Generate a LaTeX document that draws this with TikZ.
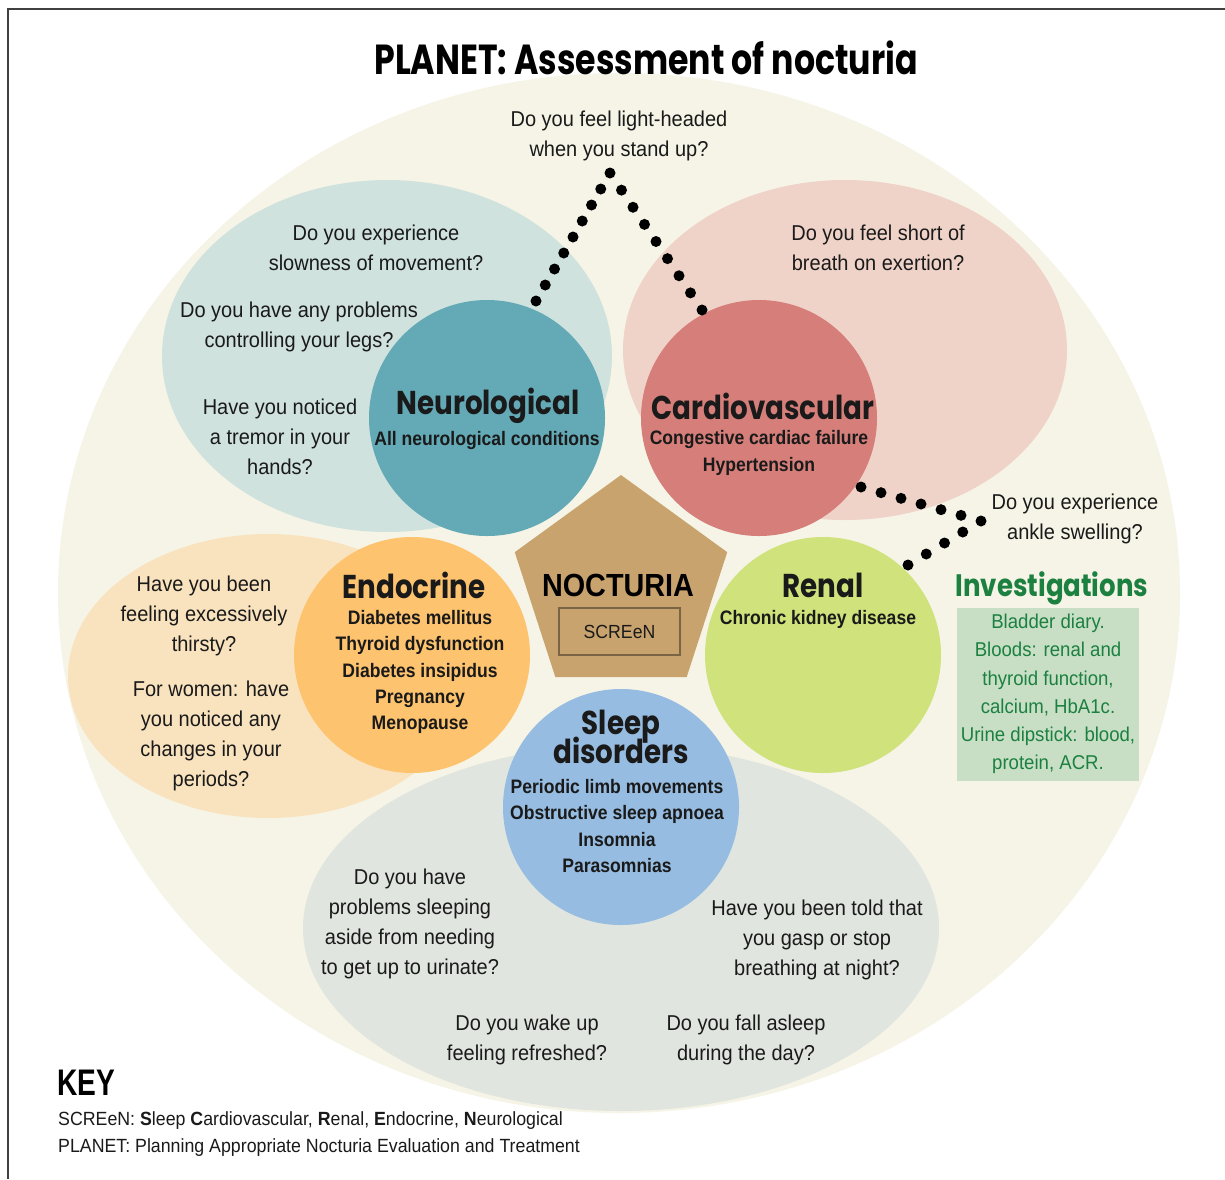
\documentclass[tikz,border=0pt]{standalone}
\usepackage{fontspec}
\setmainfont{Liberation Sans}
\newfontfamily\qf[FakeStretch=0.93]{Liberation Sans}
\newfontfamily\itf[FakeStretch=0.9]{Liberation Sans}
\newfontfamily\hdf[FakeStretch=0.84]{Poppins}
\newfontfamily\ttlf[FakeStretch=0.79]{Poppins}
\newfontfamily\keyf[FakeStretch=0.76]{Liberation Sans}
\newcommand\tightls{\setlength{\lineskiplimit}{-30pt}}
\usetikzlibrary{shapes.geometric,calc}
\definecolor{cream}{HTML}{F6F4E6}
\definecolor{neuroPale}{HTML}{CFE2DD}
\definecolor{cardioPale}{HTML}{EFD3C9}
\definecolor{endoPale}{HTML}{F9E3BF}
\definecolor{sleepPale}{HTML}{E0E5DF}
\definecolor{neuroC}{HTML}{63A9B6}
\definecolor{cardioC}{HTML}{D67E79}
\definecolor{endoC}{HTML}{FDC36E}
\definecolor{renalC}{HTML}{CFE27B}
\definecolor{sleepC}{HTML}{96BDE1}
\definecolor{pentC}{HTML}{C8A36E}
\definecolor{pentB}{HTML}{7B6445}
\definecolor{invG}{HTML}{1B8040}
\definecolor{invBox}{HTML}{C8DFC5}
\definecolor{txt}{HTML}{1A1A1A}
\begin{document}
\begin{tikzpicture}[x=1pt,y=-1pt,
  q/.style={font=\qf\fontsize{21.5}{30}\selectfont, align=center, text=txt, inner sep=0},
  itm/.style={font=\itf\bfseries\fontsize{19.5}{26.3}\selectfont, align=center, text=txt, inner sep=0},
  hd/.style={font={\hdf\bfseries\fontsize{33}{28.5}\selectfont\tightls}, align=center, text=txt, inner sep=0},
  bigc/.style={circle, minimum size=236pt, inner sep=0},
  dotlink/.style={fill=black}
]
\useasboundingbox (0,0) rectangle (1225,1179);
\fill[white] (0,0) rectangle (1225,1179);
\draw[line width=1.5pt, black!75] (8,1179) -- (8,9) -- (1225,9);

% background shapes
\fill[cream] (619,593) ellipse [x radius=561, y radius=520];
\fill[neuroPale] (387,356) ellipse [x radius=225, y radius=176];
\fill[cardioPale] (845,350) ellipse [x radius=222, y radius=170];
\fill[endoPale] (268,676) ellipse [x radius=200, y radius=142];
\fill[sleepPale] (621,928) ellipse [x radius=318, y radius=183];

% circles
\node[bigc, fill=neuroC] (neuro) at (487,418) {};
\node[bigc, fill=cardioC] (cardio) at (759,418) {};
\node[bigc, fill=endoC] (endo) at (412,655) {};
\node[bigc, fill=renalC] (renal) at (823,655) {};
\node[bigc, fill=sleepC] (sleep) at (621,807) {};
\node[regular polygon, regular polygon sides=5, minimum size=223.4pt, inner sep=0, fill=pentC] (pent) at (621,586.7) {};
\node[draw=pentB, line width=2pt, minimum width=121pt, minimum height=47pt, inner sep=0,
      font=\qf\fontsize{19}{22}\selectfont, text=txt] (screen) at (619.5,631.5) {SCREeN};
\node[font=\itf\bfseries\fontsize{32}{34}\selectfont, text=black, inner sep=0] (noct) at (618,585) {NOCTURIA};

% title
\node[font=\ttlf\bfseries\fontsize{42}{46}\selectfont, text=black, inner sep=0] (title) at (646,58) {PLANET: Assessment of nocturia};

% headings and items
\node[hd] (neuroH) at (488,406) {Neurological};
\node[itm] (neuroI) at (487,440) {All neurological conditions};
\node[hd] (cardioH) at (763,406) {Cardiovascular};
\node[itm] (cardioI) at (759,453) {Congestive cardiac failure\\Hypertension};
\node[hd] (endoH) at (414,585) {Endocrine};
\node[itm] (endoI) at (420,672) {Diabetes mellitus\\Thyroid dysfunction\\Diabetes insipidus\\Pregnancy\\Menopause};
\node[hd] (renalH) at (823,585) {Renal};
\node[itm] (renalI) at (818,619) {Chronic kidney disease};
\node[hd] (sleepH) at (621,737) {Sleep\\disorders};
\node[itm] (sleepI) at (617,826) {Periodic limb movements\\Obstructive sleep apnoea\\Insomnia\\Parasomnias};

% questions
\node[q] (qLight) at (619,136) {Do you feel light-headed\\when you stand up?};
\node[q] (qSlow) at (376,248) {Do you experience\\slowness of movement?};
\node[q] (qLegs) at (299,327) {Do you have any problems\\controlling your legs?};
\node[q] (qTremor) at (280,437) {Have you noticed\\a tremor in your\\hands?};
\node[q] (qBreath) at (878,248) {Do you feel short of\\breath on exertion?};
\node[q] (qAnkle) at (1075,519) {Do you experience\\ankle swelling?};
\node[q] (qThirst) at (204,616) {Have you been\\feeling excessively\\thirsty?};
\node[q] (qWomen) at (211,736) {For women: have\\you noticed any\\changes in your\\periods?};
\node[q] (qSleepProb) at (410,924) {Do you have\\problems sleeping\\aside from needing\\to get up to urinate?};
\node[q] (qGasp) at (817,940) {Have you been told that\\you gasp or stop\\breathing at night?};
\node[q] (qWake) at (527,1040) {Do you wake up\\feeling refreshed?};
\node[q] (qAsleep) at (746,1040) {Do you fall asleep\\during the day?};

% investigations
\node[font=\hdf\bfseries\fontsize{31}{33}\selectfont, text=invG, inner sep=0] (invH) at (1052,588) {Investigations};
\node[fill=invBox, minimum width=182pt, minimum height=173pt, inner sep=0,
      font=\qf\fontsize{20}{28.2}\selectfont, text=invG, align=center] (inv) at (1048,694)
  {Bladder diary.\\Bloods: renal and\\thyroid function,\\calcium, HbA1c.\\Urine dipstick: blood,\\protein, ACR.};

% dotted connectors
\coordinate (nA) at (536,301);
\coordinate (apex) at (610,173);
\coordinate (cA) at (702,310);
\coordinate (cB) at (861,487);
\coordinate (corner) at (981,521);
\coordinate (rB) at (908,565);
\foreach \i in {0,...,8} \fill[dotlink] ($(nA)!\i/8!(apex)$) circle (5.5pt);
\foreach \i in {1,...,8} \fill[dotlink] ($(apex)!\i/8!(cA)$) circle (5.5pt);
\foreach \i in {0,...,6} \fill[dotlink] ($(cB)!\i/6!(corner)$) circle (5.5pt);
\foreach \i in {1,...,4} \fill[dotlink] ($(corner)!\i/4!(rB)$) circle (5.5pt);

% key
\node[font=\keyf\bfseries\fontsize{37}{40}\selectfont, text=black, anchor=west, inner sep=0] (keyH) at (57,1083) {KEY};
\node[font=\qf\fontsize{19.1}{27}\selectfont, text=txt, anchor=west, align=left, inner sep=0] (keyT) at (58,1134)
  {SCREeN: \textbf{S}leep \textbf{C}ardiovascular, \textbf{R}enal, \textbf{E}ndocrine, \textbf{N}eurological\\PLANET: Planning Appropriate Nocturia Evaluation and Treatment};
\end{tikzpicture}
\end{document}
